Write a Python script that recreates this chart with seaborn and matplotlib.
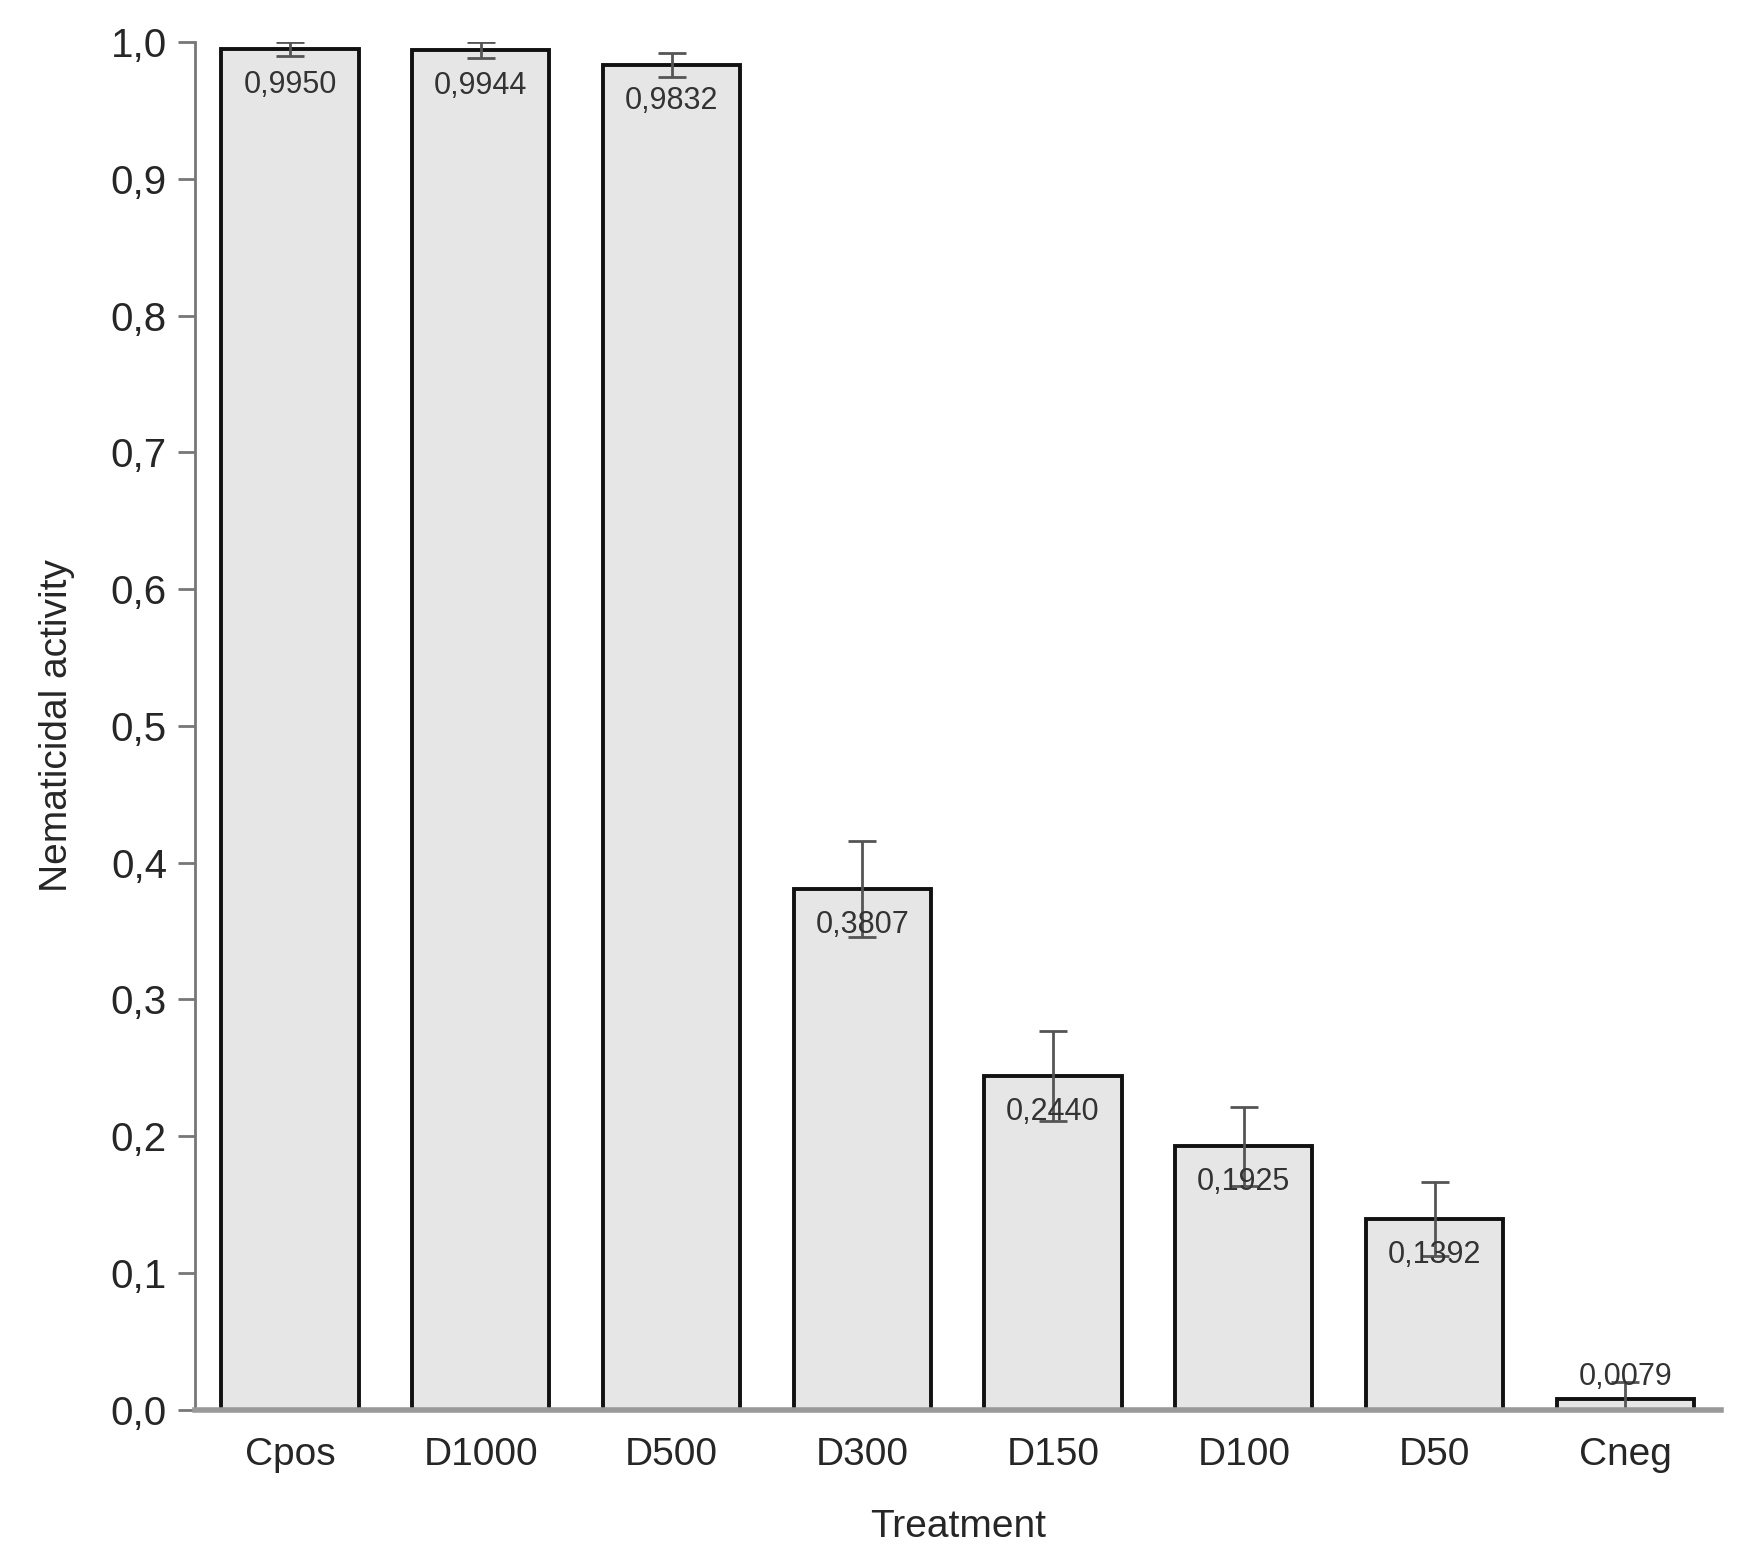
import numpy as np
import pandas as pd
import matplotlib.pyplot as plt
import seaborn as sns
from matplotlib.ticker import FixedLocator

treatments = ["Cpos", "D1000", "D500", "D300", "D150", "D100", "D50", "Cneg"]
activity = [0.9950, 0.9944, 0.9832, 0.3807, 0.2440, 0.1925, 0.1392, 0.0079]
errors = [0.005, 0.006, 0.009, 0.035, 0.033, 0.029, 0.027, 0.012]
yticks = [0.0, 0.1, 0.2, 0.3, 0.4, 0.5, 0.6, 0.7, 0.8, 0.9, 1.0]

sns.set_style("white")
plt.rcParams['font.family'] = ['Liberation Sans', 'DejaVu Sans']

data = pd.DataFrame({"Treatment": treatments, "Activity": activity})

fig = plt.figure(figsize=(17.38, 15.61), dpi=100)
ax = fig.add_axes([0.112, 0.097, 0.878, 0.876])

sns.barplot(data=data, x="Treatment", y="Activity", color="#e6e6e6",
            edgecolor="#111111", linewidth=2.8, width=0.72, saturation=1, ax=ax)
ax.errorbar(np.arange(len(treatments)), activity, yerr=errors, fmt="none",
            ecolor="#555555", elinewidth=2, capsize=10, capthick=2)

# value labels: inside the bar top, above for the tiny bar
for i, v in enumerate(activity):
    txt = f"{v:.4f}".replace(".", ",")
    if v > 0.05:
        ax.annotate(txt, (i, v), xytext=(0, -15), textcoords="offset points",
                    ha="center", va="top", fontsize=22, color="#333333")
    else:
        ax.annotate(txt, (i, v), xytext=(0, 5), textcoords="offset points",
                    ha="center", va="bottom", fontsize=22, color="#333333")

ax.set_ylim(0, 1.0)
ax.set_xlim(-0.5, len(treatments) - 0.5)
ax.set_yticks(yticks)
ax.set_yticklabels([f"{t:.1f}".replace(".", ",") for t in yticks], fontsize=29)
ax.set_xticks(range(len(treatments)))
ax.set_xticklabels(treatments, fontsize=28)
ax.tick_params(axis="x", which="major", length=0, pad=20)
ax.xaxis.set_minor_locator(FixedLocator(np.arange(-0.5, len(treatments), 1.0)))
ax.tick_params(axis="x", which="minor", length=12, width=2, color="#777777",
               direction="out")
ax.tick_params(axis="y", length=12, width=2, color="#777777", direction="out",
               pad=8, left=True)

for s in ["top", "right"]:
    ax.spines[s].set_visible(False)
ax.spines["left"].set_color("#777777")
ax.spines["left"].set_linewidth(2)
ax.spines["bottom"].set_color("#999999")
ax.spines["bottom"].set_linewidth(4)

ax.set_xlabel("Treatment", fontsize=28, labelpad=26)
ax.set_ylabel("Nematicidal activity", fontsize=28, labelpad=26)

fig.savefig("out.png", dpi=100)
